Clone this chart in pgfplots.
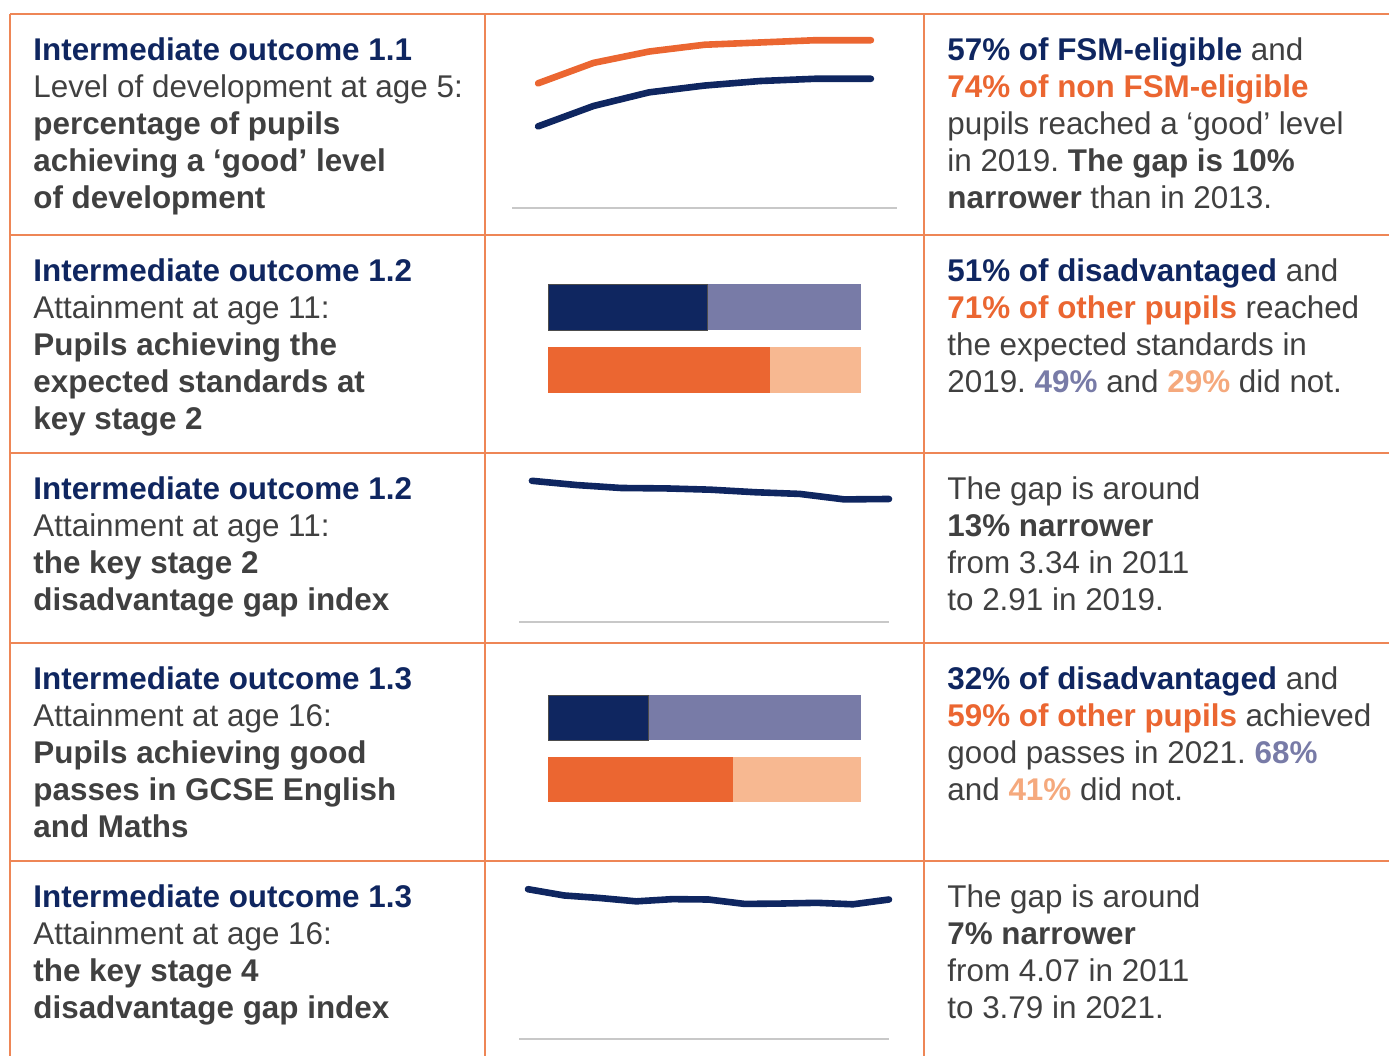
\documentclass[border=0pt]{standalone}
\usepackage{fontspec}
\setmainfont{Liberation Sans}
\usepackage{pgfplots}
\usepackage{pgfplotstable}
\pgfplotsset{compat=1.18}
\frenchspacing

\definecolor{navy}{HTML}{0F2660}
\definecolor{orng}{HTML}{EB6631}
\definecolor{lpurple}{HTML}{787BA7}
\definecolor{lorange}{HTML}{F7B891}
\definecolor{lorangetxt}{HTML}{F5A97D}
\definecolor{gridc}{HTML}{EE8656}
\definecolor{tgray}{HTML}{404040}
\definecolor{basegray}{HTML}{C8C8C8}

\newcommand\fs{\fontsize{15.7pt}{18.6pt}\selectfont}
\newcommand\blk[1]{\vtop{\fs #1}}
\newcommand\li[1]{\hbox{#1}}
\newcommand\nv[1]{\textbf{\color{navy}#1}}
\newcommand\og[1]{\textbf{\color{orng}#1}}

% level of development at age 5 (good level, %)
\pgfplotstableread{
year fsm nonfsm
2013 36 55
2014 45 64
2015 51 69
2016 54 72
2017 56 73
2018 57 74
2019 57 74
}\gld
% KS2 disadvantage gap index
\pgfplotstableread{
year gap
2011 3.34
2012 3.24
2013 3.17
2014 3.16
2015 3.13
2016 3.07
2017 3.03
2018 2.90
2019 2.91
}\kstwo
% KS4 disadvantage gap index
\pgfplotstableread{
year gap
2011 4.07
2012 3.90
2013 3.83
2014 3.74
2015 3.80
2016 3.79
2017 3.67
2018 3.68
2019 3.70
2020 3.66
2021 3.79
}\ksfour

\pgfplotsset{
  spark/.style={scale only axis, axis x line=bottom, axis y line=none,
    x axis line style={draw=basegray, line width=0.8pt, -},
    xtick=\empty, ytick=\empty, clip=false, ymin=0,
    every axis plot/.append style={line width=3.3pt, line cap=round, line join=round, mark=none}},
  bars/.style={scale only axis, hide axis, xbar stacked, xmin=0, xmax=100,
    ymin=-0.5, ymax=1.5, clip=false,
    every axis plot/.append style={draw=none}},
}

\begin{document}
\begin{tikzpicture}
\useasboundingbox (0,0) rectangle (694.5pt,-528pt);

% grid
\begin{scope}[gridc, line width=0.9pt]
\foreach \y in {7,117.5,226.5,321.5,430.5}
  \draw (5pt,-\y pt) -- (694.5pt,-\y pt);
\foreach \x in {5,242.5,462}
  \draw (\x pt,-7pt) -- (\x pt,-528pt);
\end{scope}

% left column
\begin{scope}[every node/.style={anchor=base west, inner sep=0pt, text=tgray}]
\node at (16.5pt,-30pt) {\blk{\li{\nv{Intermediate outcome 1.1}}\li{Level of development at age 5:}%
  \li{\textbf{percentage of pupils}}\li{\textbf{achieving a ‘good’ level}}\li{\textbf{of development}}}};
\node at (16.5pt,-140.5pt) {\blk{\li{\nv{Intermediate outcome 1.2}}\li{Attainment at age 11:}%
  \li{\textbf{Pupils achieving the}}\li{\textbf{expected standards at}}\li{\textbf{key stage 2}}}};
\node at (16.5pt,-249.5pt) {\blk{\li{\nv{Intermediate outcome 1.2}}\li{Attainment at age 11:}%
  \li{\textbf{the key stage 2}}\li{\textbf{disadvantage gap index}}}};
\node at (16.5pt,-344.5pt) {\blk{\li{\nv{Intermediate outcome 1.3}}\li{Attainment at age 16:}%
  \li{\textbf{Pupils achieving good}}\li{\textbf{passes in GCSE English}}\li{\textbf{and Maths}}}};
\node at (16.5pt,-453.5pt) {\blk{\li{\nv{Intermediate outcome 1.3}}\li{Attainment at age 16:}%
  \li{\textbf{the key stage 4}}\li{\textbf{disadvantage gap index}}}};

% right column
\node at (473.5pt,-30pt) {\blk{\li{\nv{57\% of FSM-eligible} and}\li{\og{74\% of non FSM-eligible}}%
  \li{pupils reached a ‘good’ level}\li{in 2019. \textbf{The gap is 10\%}}\li{\textbf{narrower} than in 2013.}}};
\node at (473.5pt,-140.5pt) {\blk{\li{\nv{51\% of disadvantaged} and}\li{\og{71\% of other pupils} reached}%
  \li{the expected standards in}\li{2019. \textbf{\color{lpurple}49\%} and \textbf{\color{lorangetxt}29\%} did not.}}};
\node at (473.5pt,-249.5pt) {\blk{\li{The gap is around}\li{\textbf{13\% narrower}}%
  \li{from 3.34 in 2011}\li{to 2.91 in 2019.}}};
\node at (473.5pt,-344.5pt) {\blk{\li{\nv{32\% of disadvantaged} and}\li{\og{59\% of other pupils} achieved}%
  \li{good passes in 2021. \textbf{\color{lpurple}68\%}}\li{and \textbf{\color{lorangetxt}41\%} did not.}}};
\node at (473.5pt,-453.5pt) {\blk{\li{The gap is around}\li{\textbf{7\% narrower}}%
  \li{from 4.07 in 2011}\li{to 3.79 in 2021.}}};
\end{scope}

% row 1: good level of development
\begin{axis}[spark, at={(256pt,-104pt)}, anchor=south west,
  width=192.5pt, height=83.9pt, xmin=2012.53, xmax=2019.47, ymax=74]
\addplot[orng] table[x=year, y=nonfsm] {\gld};
\addplot[navy] table[x=year, y=fsm] {\gld};
\end{axis}

% row 2: expected standards at KS2
\begin{axis}[bars, at={(274pt,-200.75pt)}, anchor=south west,
  width=156.5pt, height=63pt, bar width=23pt]
\addplot[fill=navy, draw=black!70, line width=0.4pt] coordinates {(51,1) (0,0)};
\addplot[fill=lpurple] coordinates {(49,1) (0,0)};
\addplot[fill=orng] coordinates {(0,1) (71,0)};
\addplot[fill=lorange] coordinates {(0,1) (29,0)};
\end{axis}

% row 3: KS2 gap index
\begin{axis}[spark, at={(259.5pt,-311pt)}, anchor=south west,
  width=185pt, height=70.6pt, xmin=2010.71, xmax=2019, ymax=3.34]
\addplot[navy] table[x=year, y=gap] {\kstwo};
\end{axis}

% row 4: GCSE English and Maths
\begin{axis}[bars, at={(274pt,-405.25pt)}, anchor=south west,
  width=156.5pt, height=62pt, bar width=22.5pt]
\addplot[fill=navy, draw=black!70, line width=0.4pt] coordinates {(32,1) (0,0)};
\addplot[fill=lpurple] coordinates {(68,1) (0,0)};
\addplot[fill=orng] coordinates {(0,1) (59,0)};
\addplot[fill=lorange] coordinates {(0,1) (41,0)};
\end{axis}

% row 5: KS4 gap index
\begin{axis}[spark, at={(259.5pt,-519.5pt)}, anchor=south west,
  width=185pt, height=74.9pt, xmin=2010.75, xmax=2021, ymax=4.07]
\addplot[navy] table[x=year, y=gap] {\ksfour};
\end{axis}
\end{tikzpicture}
\end{document}
